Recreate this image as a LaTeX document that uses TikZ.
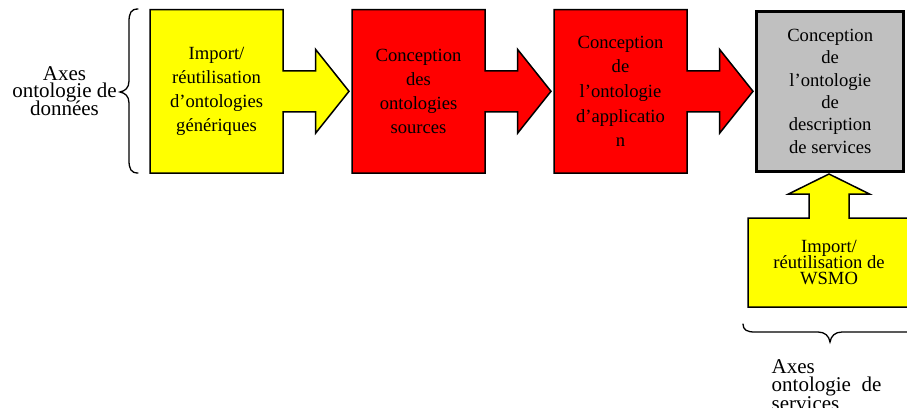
\documentclass[tikz,border=0pt]{standalone}
\usepackage{fontspec}
\setmainfont{Liberation Serif}
\usetikzlibrary{calc,backgrounds}
\definecolor{stepgray}{RGB}{192,192,192}
\definecolor{stepyellow}{RGB}{255,255,0}
\definecolor{stepred}{RGB}{255,0,0}
\newcommand\boxfont[1]{\fontsize{18.6}{#1}\selectfont}
\newcommand\axisfont[1]{\fontsize{21}{#1}\selectfont}
\tikzset{
  stepbox/.style={inner sep=0pt, outer sep=0pt, align=center,
    minimum width=133pt, minimum height=163.5pt},
  outline/.style={draw=black, line width=1.5pt, line join=miter},
  axistext/.style={inner sep=0pt},
  bracepath/.style={draw=black, line width=1.3pt, line cap=round},
}
% box with a block arrow leaving its right side
\newcommand\rightblock[2]{%
  \begin{pgfonlayer}{background}
  \draw[outline, fill=#2] (#1.north west) -- (#1.north east)
    -- ($(#1.east)+(0,-20.5)$) -- ($(#1.east)+(32.5,-20.5)$)
    -- ($(#1.east)+(32.5,-42)$) -- ($(#1.east)+(66,0)$)
    -- ($(#1.east)+(32.5,42)$) -- ($(#1.east)+(32.5,20.5)$)
    -- ($(#1.east)+(0,20.5)$) -- (#1.south east) -- (#1.south west) -- cycle;
  \end{pgfonlayer}}
\begin{document}
\lineskiplimit=-50pt
\begin{tikzpicture}[x=1pt,y=-1pt]
\useasboundingbox (0,0) rectangle (907,407);

% data-ontology axis
\node[stepbox, font=\boxfont{24}] (generic) at (216.5,91.3)
  {Import/\\réutilisation\\d’ontologies\\génériques};
\rightblock{generic}{stepyellow}

\node[stepbox, font=\boxfont{24}] (sources) at (418.5,91.3)
  {Conception\\des\\ontologies\\sources};
\rightblock{sources}{stepred}

\node[stepbox, font=\boxfont{24.7}] (appli) at (620.5,91.3)
  {Conception\\de\\l’ontologie\\d’applicatio\\n};
\rightblock{appli}{stepred}

% service description ontology
\node[stepbox, font=\boxfont{22.4}, minimum width=147.5pt, minimum height=160.5pt,
  draw=black, fill=stepgray, line width=3pt] (services) at (830.2,91.3)
  {Conception\\de\\l’ontologie\\de\\description\\de services};

% WSMO import, arrow pointing up
\node[stepbox, font=\boxfont{16}, minimum width=162pt, minimum height=89pt]
  (wsmo) at (829,262.5) {Import/\\réutilisation de\\WSMO};
\begin{pgfonlayer}{background}
\draw[outline, fill=stepyellow] (wsmo.south west) -- (wsmo.north west)
  -- ($(wsmo.north)+(-20,0)$) -- ($(wsmo.north)+(-20,-24)$)
  -- ($(wsmo.north)+(-40.5,-24)$) -- ($(wsmo.north)+(0,-44)$)
  -- ($(wsmo.north)+(40.5,-24)$) -- ($(wsmo.north)+(20,-24)$)
  -- ($(wsmo.north)+(20,0)$) -- (wsmo.north east) -- (wsmo.south east) -- cycle;
\end{pgfonlayer}

% left brace and label
\node[axistext, font=\axisfont{17.5}, align=center] (axdata) at (64.5,91)
  {Axes\\ontologie de\\données};
\coordinate (lbtop) at (138,9);
\coordinate (lbtip) at (120,92);
\coordinate (lbbot) at (138,173);
\draw[bracepath] (lbtop) .. controls (131,9) and (129,13) .. (129,22)
  -- (129,81) .. controls (129,88) and (125,91) .. (lbtip)
  .. controls (125,93) and (129,96) .. (129,103)
  -- (129,160) .. controls (129,169) and (131,173) .. (lbbot);

% bottom brace and label
\coordinate (bbleft) at (743,324);
\coordinate (bbtip) at (830,342);
\coordinate (bbright) at (917,324);
\draw[bracepath] (bbleft) .. controls (743,330) and (747,332) .. (755,332)
  -- (818,332) .. controls (825,332) and (829,336) .. (bbtip)
  .. controls (831,336) and (835,332) .. (842,332)
  -- (905,332) .. controls (913,332) and (917,330) .. (bbright);
\node[axistext, font=\axisfont{18.4}, align=left, anchor=north west] (axserv)
  at (771.5,359.4) {Axes\\ontologie\hspace{0.5em}de\\services};
\end{tikzpicture}
\end{document}
